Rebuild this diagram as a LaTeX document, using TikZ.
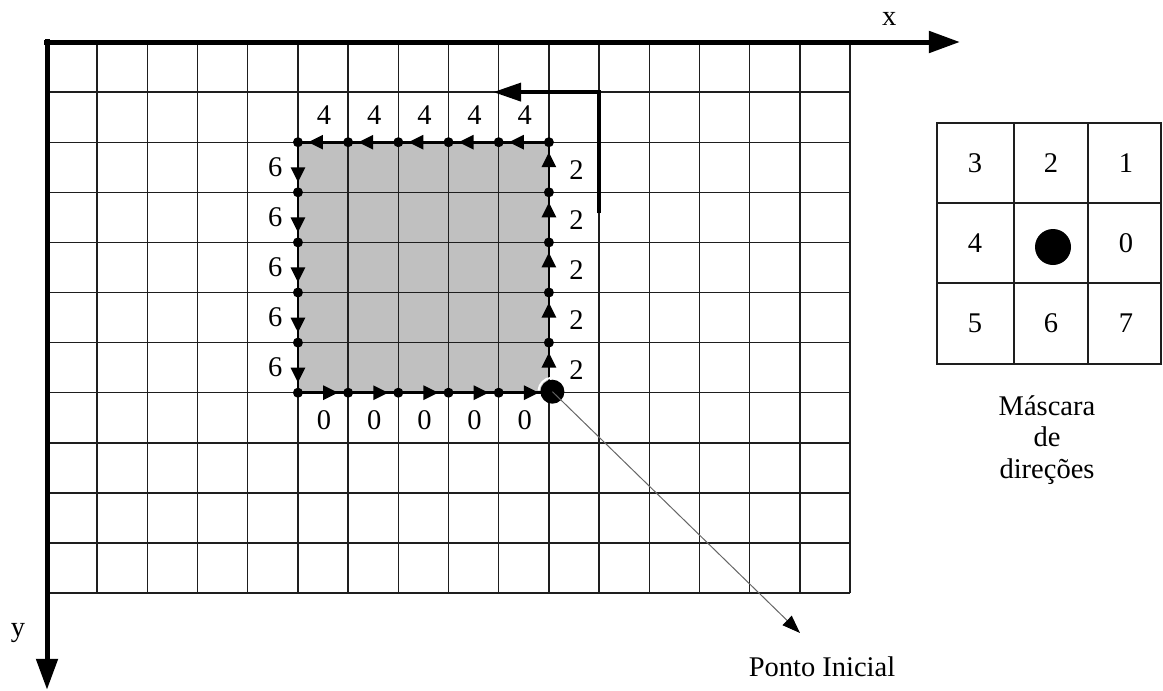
\documentclass[tikz,border=0pt]{standalone}
\usepackage{fontspec}
\setmainfont{Liberation Serif}
\usetikzlibrary{arrows.meta,decorations.markings}
\definecolor{regiongray}{RGB}{192,192,192}
\definecolor{gline}{RGB}{30,30,30}
\begin{document}
\begin{tikzpicture}[x=1pt,y=-1pt,
  font=\fontsize{28.5}{31.5}\selectfont,
  gridline/.style={line width=1.4pt, draw=gline},
  axis/.style={line width=5pt, -{Triangle[length=31pt,width=21pt]}},
  chain/.style={line width=2.8pt, postaction={decorate},
    decoration={markings, mark=at position 0.8 with {\arrow{Triangle[length=15pt,width=14pt]}}}},
  dot/.style={circle, fill=black, inner sep=0pt, minimum size=10pt},
  bigdot/.style={circle, fill=black, inner sep=0pt, minimum size=24pt},
  lbl/.style={inner sep=0pt}]
\useasboundingbox (0,0) rectangle (1163,691);
\begin{scope}[shift={(47,42)}, x=50.19pt, y=-50.1pt]
  % shaded region
  \fill[regiongray] (5,2) rectangle (10,7);
  % grid
  \foreach \i in {1,...,16} \draw[gridline] (\i,0) -- (\i,11);
  \foreach \j in {1,...,11} \draw[gridline] (0,\j) -- (16,\j);
  % axes
  \coordinate (ox) at (-0.05,0);
  \coordinate (xt) at (18.19,0);
  \coordinate (oy) at (0,-0.05);
  \coordinate (yt) at (0,12.93);
  \draw[axis] (ox) -- (xt);
  \draw[axis] (oy) -- (yt);
  \node[lbl] (xlabel) at (16.78,-0.46) {x};
  \node[lbl] (ylabel) at (-0.58,11.8) {y};
  % chain coordinates
  \foreach \k in {2,...,7} {
    \coordinate (L\k) at (5,\k);
    \coordinate (R\k) at (10,\k);
  }
  \foreach \k in {5,...,10} {
    \coordinate (T\k) at (\k,2);
    \coordinate (B\k) at (\k,7);
  }
  % chain segments
  \foreach \a/\b in {7/6,6/5,5/4,4/3,3/2} \draw[chain] (R\a) -- (R\b);
  \foreach \a/\b in {10/9,9/8,8/7,7/6,6/5} \draw[chain] (T\a) -- (T\b);
  \foreach \a/\b in {2/3,3/4,4/5,5/6,6/7} \draw[chain] (L\a) -- (L\b);
  \foreach \a/\b in {5/6,6/7,7/8,8/9,9/10} \draw[chain] (B\a) -- (B\b);
  % dots
  \foreach \k in {2,...,7} \node[dot] (dl\k) at (L\k) {};
  \foreach \k in {2,...,6} \node[dot] (dr\k) at (R\k) {};
  \foreach \k in {6,...,9} {
    \node[dot] (dt\k) at (T\k) {};
    \node[dot] (db\k) at (B\k) {};
  }
  % start point
  \node[bigdot] (start) at (10.07,6.98) {};
  \draw[white, line width=2pt] (start.center) ++(95:14pt) arc[start angle=95, end angle=175, radius=14pt];
  % labels
  \foreach \k in {5,...,9} {
    \node[lbl] (n0-\k) at (\k+0.52,7.54) {0};
    \node[lbl] (n4-\k) at (\k+0.52,1.46) {4};
  }
  \foreach \k in {2,...,6} {
    \node[lbl] (n2-\k) at (10.55,\k+0.55) {2};
    \node[lbl] (n6-\k) at (4.55,\k+0.5) {6};
  }
  % bold L arrow
  \coordinate (lb) at (11,3.42);
  \coordinate (lc) at (11,1);
  \coordinate (lt) at (8.89,1);
  \draw[line width=4pt, line join=miter, -{Triangle[length=28pt,width=18pt]}] (lb) -- (lc) -- (lt);
\end{scope}
% Ponto Inicial
\coordinate (ptip) at (800,633);
\draw[line width=1pt, draw=black!60, -{Triangle[length=18pt,width=13pt,color=black]}] (start.center) -- (ptip);
\node[lbl] (pinicial) at (822,667) {Ponto Inicial};
% mask
\draw[gridline] (937,123) rectangle (1161,364);
\draw[gridline] (1014,123) -- (1014,364);
\draw[gridline] (1088,123) -- (1088,364);
\draw[gridline] (937,203) -- (1161,203);
\draw[gridline] (937,283) -- (1161,283);
\node[lbl] (m3) at (975,163) {3};
\node[lbl] (m2) at (1051,163) {2};
\node[lbl] (m1) at (1126,163) {1};
\node[lbl] (m4) at (975,243) {4};
\node[circle, fill=black, inner sep=0pt, minimum size=36pt] (mdot) at (1053,247) {};
\node[lbl] (m0) at (1126,243) {0};
\node[lbl] (m5) at (975,323) {5};
\node[lbl] (m6) at (1051,323) {6};
\node[lbl] (m7) at (1126,323) {7};
\node[lbl, align=center] (mtext) at (1047,440) {Máscara\\de\\direções};
\end{tikzpicture}
\end{document}
